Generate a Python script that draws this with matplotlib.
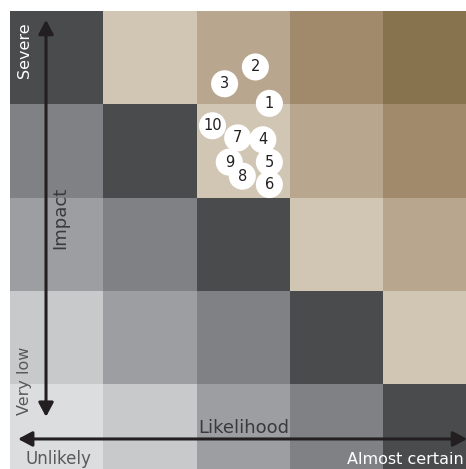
import matplotlib
matplotlib.use('Agg')
import matplotlib.pyplot as plt
from matplotlib.patches import Rectangle, FancyArrowPatch
import numpy as np

plt.rcParams['font.family'] = ['DejaVu Sans']

# 风险等级矩阵（行：影响从高到低，列：可能性从低到高）
likelihood_levels = ['Unlikely', '', '', '', 'Almost certain']
impact_levels = ['Very low', '', '', '', 'Severe']
risk_grid = [
    [0, 1, 2, 3, 4],      # Severe
    [-1, 0, 1, 2, 3],
    [-2, -1, 0, 1, 2],
    [-3, -2, -1, 0, 1],
    [-4, -3, -2, -1, 0],  # Very low
]

# 风险点：编号、可能性位置、影响位置（单元格单位）
risk_ids = [1, 2, 3, 4, 5, 6, 7, 8, 9, 10]
risk_x = [2.78, 2.63, 2.30, 2.71, 2.78, 2.78, 2.44, 2.49, 2.35, 2.17]
risk_y = [4.01, 4.40, 4.22, 3.62, 3.38, 3.14, 3.64, 3.23, 3.38, 3.77]

colors = {
    -4: '#dcdddf', -3: '#c8c9cb', -2: '#9d9ea2', -1: '#808185',
    0: '#4a4b4d',
    1: '#d1c5b3', 2: '#b8a78e', 3: '#a08a6b', 4: '#88734f',
}

fig = plt.figure(figsize=(4.66, 4.69), dpi=100)
ax = fig.add_axes([0, 0, 1, 1])
cell = 93.3
ax.set_xlim(-10 / cell, 5 - 10.5 / cell)
ax.set_ylim(5 - 458 / cell, 5 + 11 / cell)
ax.axis('off')

# 绘制网格
for r, row in enumerate(risk_grid):
    for c, level in enumerate(row):
        ax.add_patch(Rectangle((c, 4 - r), 1, 1, facecolor=colors[level],
                               edgecolor='none', zorder=1))

# 坐标轴箭头
arrow_kw = dict(arrowstyle='<|-|>,head_length=0.6,head_width=0.32',
                mutation_scale=14, color='#231f20', linewidth=2.2,
                shrinkA=0, shrinkB=0, zorder=3)
ax.add_patch(FancyArrowPatch((0.386, 0.65), (0.386, 4.905), **arrow_kw))
ax.add_patch(FancyArrowPatch((0.086, 0.413), (4.9, 0.413), **arrow_kw))

# 轴标签
ax.text(0.54, 2.78, 'Impact', rotation=90, ha='center', va='center',
        fontsize=13, color='#3a3a3c', zorder=4)
ax.text(2.51, 0.477, 'Likelihood', ha='center', va='baseline',
        fontsize=13, color='#3a3a3c', zorder=4)
ax.text(0.155, 4.585, impact_levels[4], rotation=90, ha='center', va='center',
        fontsize=11.5, color='white', zorder=4)
ax.text(0.155, 1.04, impact_levels[0], rotation=90, ha='center', va='center',
        fontsize=11.5, color='#58595b', zorder=4)
ax.text(0.17, 0.14, likelihood_levels[0], ha='left', va='baseline',
        fontsize=12, color='#58595b', zorder=4)
ax.text(3.61, 0.14, likelihood_levels[4], ha='left', va='baseline',
        fontsize=11.5, color='white', zorder=4)

# 风险点
ax.scatter(risk_x, risk_y, s=380, c='white', edgecolors='none', zorder=5)
for i, x, y in zip(risk_ids, risk_x, risk_y):
    ax.text(x, y, str(i), ha='center', va='center', fontsize=10.5,
            color='#231f20', zorder=6)

plt.savefig('out.png', dpi=100)
